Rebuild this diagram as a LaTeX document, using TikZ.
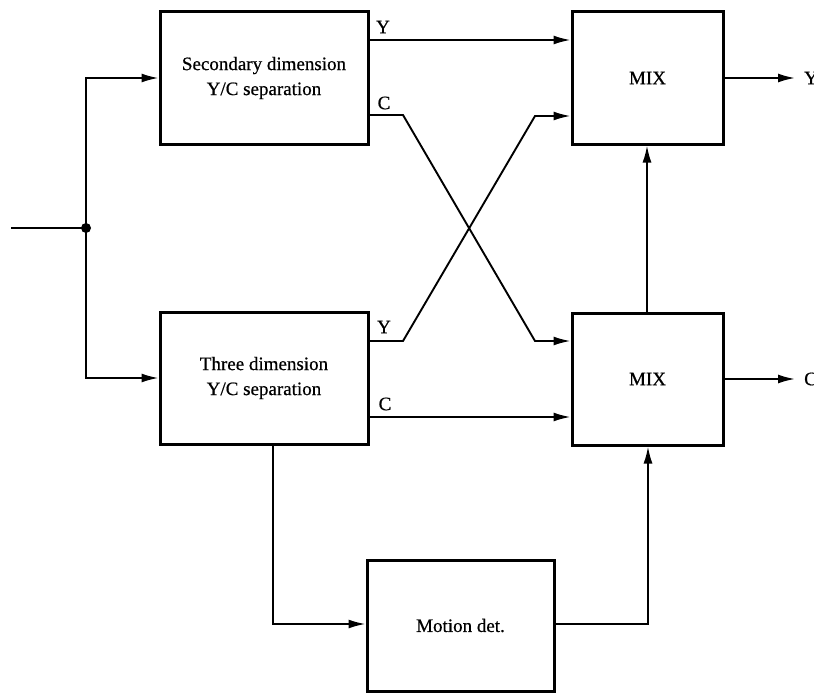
\documentclass[tikz,border=0pt]{standalone}
\usepackage{fontspec}
\setmainfont{Liberation Serif}[FakeBold=0.6]
\usetikzlibrary{arrows.meta}
\begin{document}
\begin{tikzpicture}[x=1pt,y=-1pt,
  box/.style={draw,line width=3pt,inner sep=0pt,font=\fontsize{19}{25}\selectfont,align=center},
  conn/.style={line width=1.9pt,line join=miter},
  arr/.style={conn,-{Latex[length=17pt,width=9pt]}},
  lbl/.style={font=\fontsize{19}{22}\selectfont,inner sep=0pt}]
\useasboundingbox (0,0) rectangle (814,693);
% boxes
\node[box,minimum width=208pt,minimum height=132pt] (sec) at (264,78) {Secondary dimension\\Y/C separation};
\node[box,minimum width=208pt,minimum height=132pt] (thr) at (264,378) {Three dimension\\Y/C separation};
\node[box,minimum width=151pt,minimum height=132pt] (mixA) at (647.5,78) {MIX};
\node[box,minimum width=151pt,minimum height=132pt] (mixB) at (647.5,379) {MIX};
\node[box,minimum width=187pt,minimum height=131pt] (mot) at (460.5,625.5) {Motion det.};
% input
\coordinate (in) at (11,228);
\coordinate (j) at (86,228);
\draw[conn] (in) -- (j);
\fill (j) circle (5pt);
\draw[arr] (j) -- (j |- sec.west) -- (sec.west);
\draw[arr] (j) -- (j |- thr.west) -- (thr.west);
% cross connections
\draw[arr] (sec.east |- 0,40) -- (mixA.west |- 0,40);
\draw[arr] (sec.east |- 0,115) -- (403,115) -- (535,341) -- (mixB.west |- 0,341);
\draw[arr] (thr.east |- 0,341) -- (403,341) -- (535,116) -- (mixA.west |- 0,116);
\draw[arr] (thr.east |- 0,417) -- (mixB.west |- 0,417);
% motion path
\draw[arr] (thr.south -| 273,0) -- (273,624) -- (mot.west |- 0,624);
\draw[arr] (mot.east |- 0,624) -- (648,624) -- (mixB.south -| 648,0);
\draw[arr] (mixB.north -| 647,0) -- (mixA.south -| 647,0);
% outputs
\coordinate (oY) at (795,78);
\coordinate (oC) at (795,379);
\draw[arr] (mixA.east) -- (oY);
\draw[arr] (mixB.east) -- (oC);
\node[lbl,anchor=west] (yout) at (804,78) {Y};
\node[lbl,anchor=west] (cout) at (804,379) {C};
% labels
\node[lbl] (ly1) at (383,27) {Y};
\node[lbl] (lc1) at (384,103) {C};
\node[lbl] (ly2) at (384,327) {Y};
\node[lbl] (lc2) at (385,404) {C};
\end{tikzpicture}
\end{document}
